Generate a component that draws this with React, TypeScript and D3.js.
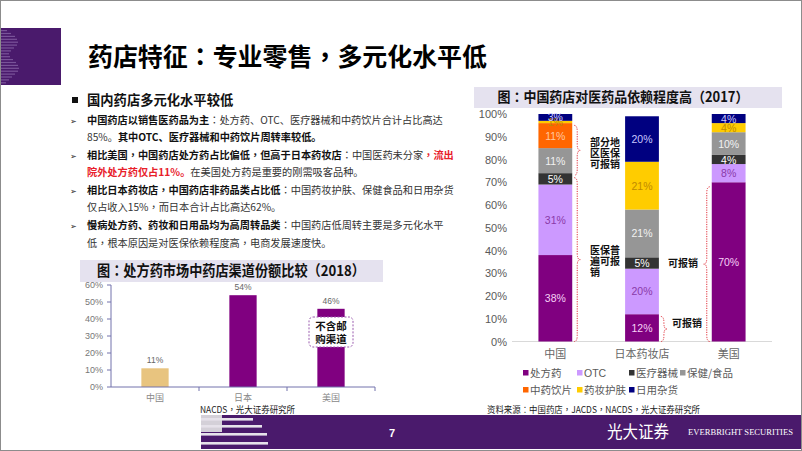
import * as d3 from 'd3';

const W = 802;
const H = 451;
const PURPLE = '#4a1a6c';
const CJK = '"Noto Sans CJK SC", sans-serif';
const CJK_TC = '"Noto Sans CJK TC", sans-serif';
const LATIN = '"Liberation Sans", Arial, sans-serif';

// left chart: pharmacy share of Rx market (2018)
const SHARE_CATS = ['中国', '日本', '美国'];
const SHARE_VALUES = [11, 54, 46];
const SHARE_COLORS = ['#e8c47f', '#800080', '#800080'];
const SHARE_TICKS = [0, 10, 20, 30, 40, 50, 60];

// right chart: revenue mix (2017)
const DEP_CATS = ['中国', '日本药妆店', '美国'];
const DEP_SERIES = ['处方药', 'OTC', '医疗器械', '保健/食品', '中药饮片', '药妆护肤', '日用杂货'];
const DEP_CHINA = [38, 31, 5, 11, 11, 1, 3];
const DEP_JAPAN = [12, 20, 5, 21, 0, 21, 20];
const DEP_US = [70, 8, 4, 10, 0, 4, 4];
const DEP_COLORS = ['#800080', '#cc99ff', '#333333', '#969696', '#ff6600', '#ffcc00', '#000080'];
const DEP_LABEL_COLORS = ['#f6d0f6', '#8a3aa8', '#ffffff', '#f2f2f2', '#ffc8a0', '#c08a00', '#c8c8ff'];
const DEP_TICKS = [0, 10, 20, 30, 40, 50, 60, 70, 80, 90, 100];

// dotted braces on the right chart (value ranges)
const BRACES = [
  { cat: '中国', from: 73, to: 95, dir: 1, side: 'right' },
  { cat: '中国', from: 0, to: 72, dir: 1, side: 'right' },
  { cat: '日本药妆店', from: 0, to: 11, dir: 1, side: 'right' },
  { cat: '美国', from: 0, to: 68, dir: -1, side: 'left' },
];
const NOTES = [
  { x: 590, y: 142, lines: ['部分地', '区医保', '可报销'] },
  { x: 590, y: 250, lines: ['医保普', '遍可报', '销'] },
  { x: 668, y: 263, lines: ['可报销'] },
  { x: 672, y: 323, lines: ['可报销'] },
];

type Seg = { t: string; b?: boolean; r?: boolean };
const BODY: Seg[][] = [
  [{ t: '中国药店以销售医药品为主', b: true }, { t: '：处方药、OTC、医疗器械和中药饮片合计占比高达' }],
  [{ t: '85%。' }, { t: '其中OTC、医疗器械和中药饮片周转率较低。', b: true }],
  [{ t: '相比美国，中国药店处方药占比偏低，但高于日本药妆店', b: true }, { t: '：中国医药未分家' }, { t: '，流出', b: true, r: true }],
  [{ t: '院外处方药仅占11%。', b: true, r: true }, { t: '在美国处方药是重要的刚需吸客品种。' }],
  [{ t: '相比日本药妆店，中国药店非药品类占比低', b: true }, { t: '：中国药妆护肤、保健食品和日用杂货' }],
  [{ t: '仅占收入15%，而日本合计占比高达62%。' }],
  [{ t: '慢病处方药、药妆和日用品均为高周转品类', b: true }, { t: '：中国药店低周转主要是多元化水平' }],
  [{ t: '低，根本原因是对医保依赖程度高，电商发展速度快。' }],
];
const BODY_Y = [120, 137, 155, 172, 190, 207, 225, 243];
const ARROW_ROWS = [0, 2, 4, 6];

// full-width colon / comma centred in their cell, as in the slide font
function P({ s }: { s: string }) {
  return (
    <>
      {s.split(/([：，])/).filter(p => p !== '').map((p, i) =>
        p === '：' || p === '，'
          ? <tspan key={i} fontFamily={CJK_TC}>{p}</tspan>
          : <tspan key={i}>{p}</tspan>
      )}
    </>
  );
}

function bracePath(x: number, y1: number, y2: number, w: number, dir: number) {
  const ym = (y1 + y2) / 2;
  const r = Math.min(6, (y2 - y1) / 4);
  const xm = x + dir * w;
  return `M${x},${y1} Q${xm},${y1} ${xm},${y1 + r} L${xm},${ym - r} Q${xm},${ym} ${x + dir * 2 * w},${ym} Q${xm},${ym} ${xm},${ym + r} L${xm},${y2 - r} Q${xm},${y2} ${x},${y2}`;
}

function ShareChart() {
  const x = d3.scaleBand<string>().domain(SHARE_CATS).range([111, 375]);
  const y = d3.scaleLinear().domain([0, 60]).range([387, 285]);
  const bw = x.bandwidth() * 0.31;
  const axisColor = '#7272ac';
  return (
    <g>
      <rect x={80} y={260} width={303} height={22} fill="#e5e2ef" />
      <text x={231} y={276} textAnchor="middle" fontFamily={CJK} fontWeight={700} fontSize={14.5}
        textLength={268} lengthAdjust="spacingAndGlyphs" fill="#111"><P s="图：处方药市场中药店渠道份额比较（2018）" /></text>
      {SHARE_TICKS.map(t => (
        <g key={t}>
          <line x1={107} x2={111} y1={y(t)} y2={y(t)} stroke={axisColor} />
          <text x={103} y={y(t) + 3} textAnchor="end" fontFamily={LATIN} fontSize={9} fill="#777">{t}%</text>
        </g>
      ))}
      {SHARE_CATS.map((c, i) => {
        const cx = x(c)! + x.bandwidth() / 2;
        return (
          <g key={c}>
            <rect x={cx - bw / 2} y={y(SHARE_VALUES[i])} width={bw} height={y(0) - y(SHARE_VALUES[i])} fill={SHARE_COLORS[i]} />
            <text x={cx} y={y(SHARE_VALUES[i]) - 5} textAnchor="middle" fontFamily={LATIN} fontSize={8.5} fill="#666">{SHARE_VALUES[i]}%</text>
            <text x={cx} y={401} textAnchor="middle" fontFamily={CJK} fontSize={9} fill="#888">{c}</text>
            <line x1={x(c)! + x.bandwidth()} x2={x(c)! + x.bandwidth()} y1={387} y2={391} stroke={axisColor} />
          </g>
        );
      })}
      <line x1={111} x2={111} y1={285} y2={387} stroke={axisColor} />
      <line x1={111} x2={375} y1={387} y2={387} stroke={axisColor} />
      <rect x={309} y={317} width={44} height={30} rx={4} fill="#fff" stroke="#9a5aae" strokeDasharray="2,1.5" />
      <text x={331} y={330} textAnchor="middle" fontFamily={CJK} fontWeight={700} fontSize={10.5} fill="#111">不含邮</text>
      <text x={331} y={343} textAnchor="middle" fontFamily={CJK} fontWeight={700} fontSize={10.5} fill="#111">购渠道</text>
      <text x={200} y={413} fontFamily={CJK} fontSize={9} textLength={95} lengthAdjust="spacingAndGlyphs" fill="#222"><P s="NACDS，光大证券研究所" /></text>
    </g>
  );
}

function DependChart() {
  const rows = DEP_CATS.map((c, i) => {
    const vals = [DEP_CHINA, DEP_JAPAN, DEP_US][i];
    const row: Record<string, any> = { cat: c };
    DEP_SERIES.forEach((s, j) => { row[s] = vals[j]; });
    return row;
  });
  const stack = d3.stack<Record<string, any>>().keys(DEP_SERIES)(rows);
  const x = d3.scaleBand<string>().domain(DEP_CATS).range([512, 772]);
  const y = d3.scaleLinear().domain([0, 100]).range([341.5, 114]);
  const bw = x.bandwidth() * 0.39;
  const cxOf = (c: string) => x(c)! + x.bandwidth() / 2;
  return (
    <g>
      <rect x={474} y={87} width={308} height={21} fill="#e5e2ef" />
      <text x={623} y={102} textAnchor="middle" fontFamily={CJK} fontWeight={700} fontSize={14}
        textLength={251} lengthAdjust="spacingAndGlyphs" fill="#111"><P s="图：中国药店对医药品依赖程度高（2017）" /></text>
      {DEP_TICKS.map(t => (
        <text key={t} x={507} y={y(t) + 4} textAnchor="end" fontFamily={LATIN} fontSize={11} fill="#595959">{t}%</text>
      ))}
      <line x1={512} x2={772} y1={y(0)} y2={y(0)} stroke="#d9d9d9" />
      {stack.map((layer, si) => (
        <g key={layer.key}>
          {layer.map((d, ci) => {
            const v = d[1] - d[0];
            if (v <= 0) return null;
            const cx = cxOf(DEP_CATS[ci]);
            return (
              <rect key={ci} x={cx - bw / 2} y={y(d[1])} width={bw} height={y(d[0]) - y(d[1])} fill={DEP_COLORS[si]} />
            );
          })}
        </g>
      ))}
      {stack.map((layer, si) => (
        <g key={'l' + layer.key}>
          {layer.map((d, ci) => {
            const v = d[1] - d[0];
            if (v <= 0) return null;
            return (
              <text key={ci} x={cxOf(DEP_CATS[ci])} y={y((d[0] + d[1]) / 2) + 4} textAnchor="middle"
                fontFamily={LATIN} fontSize={10.5} fill={DEP_LABEL_COLORS[si]}>{v}%</text>
            );
          })}
        </g>
      ))}
      {DEP_CATS.map(c => (
        <text key={c} x={cxOf(c)} y={358} textAnchor="middle" fontFamily={CJK} fontSize={11} fill="#666">{c}</text>
      ))}
      {BRACES.map((b, i) => {
        const cx = cxOf(b.cat);
        const bx = b.side === 'right' ? cx + bw / 2 + 2 : cx - bw / 2 - 2;
        return (
          <path key={i} d={bracePath(bx, y(b.to), y(b.from), 3, b.dir)} fill="none"
            stroke="#e0303a" strokeWidth={1} strokeDasharray="1.2,1.2" />
        );
      })}
      {NOTES.map((n, i) => (
        <g key={i}>
          {n.lines.map((l, j) => (
            <text key={j} x={n.x} y={n.y + 4 + j * 11} fontFamily={CJK} fontWeight={700} fontSize={10} fill="#111">{l}</text>
          ))}
        </g>
      ))}
      {DEP_SERIES.map((s, i) => {
        const col = i % 4;
        const row = Math.floor(i / 4);
        const lx = [523, 577, 629, 680][col];
        const ly = 373 + row * 17;
        return (
          <g key={s}>
            <rect x={lx} y={ly - 3} width={5.5} height={5.5} fill={DEP_COLORS[i]} />
            <text x={lx + 7} y={ly + 4} fontFamily={s === 'OTC' ? LATIN : CJK} fontSize={10.5} fill="#595959">{s}</text>
          </g>
        );
      })}
      <text x={487} y={413} fontFamily={CJK} fontSize={9} textLength={213} lengthAdjust="spacingAndGlyphs" fill="#222"><P s="资料来源：中国药店，JACDS，NACDS，光大证券研究所" /></text>
    </g>
  );
}

function Decorations() {
  const stripeLens = [6, 10, 14, 16, 17, 16, 13, 10, 8, 9, 12, 15, 17, 18, 17, 14, 11, 8, 5];
  const footStripes = [
    { y: 418, w: 52 }, { y: 425, w: 61 }, { y: 433, w: 66 }, { y: 442, w: 67 },
  ];
  return (
    <g>
      <rect x={0} y={28} width={61} height={57} fill={PURPLE} />
      {stripeLens.map((l, i) => (
        <rect key={i} x={1} y={30 + i * 2.9} width={l} height={1.2} fill="#9a7ab8" opacity={0.6} />
      ))}
      <rect x={201} y={415} width={600} height={34} fill={PURPLE} />
      <rect x={201} y={415} width={21} height={17} fill="#d4d0d8" />
      {footStripes.map((s, i) => (
        <rect key={i} x={201} y={s.y} width={s.w} height={2.6} fill="#e6e2ea" />
      ))}
      <text x={392} y={437} textAnchor="middle" fontFamily={LATIN} fontWeight={700} fontSize={11} fill="#fff">7</text>
      <text x={607} y={438} fontFamily={CJK} fontWeight={400} fontSize={17} textLength={62} lengthAdjust="spacingAndGlyphs" fill="#fff">光大证券</text>
      <text x={688} y={435} fontFamily='"Liberation Serif", serif' fontSize={8} textLength={105} lengthAdjust="spacingAndGlyphs" fill="#fff">EVERBRIGHT SECURITIES</text>
    </g>
  );
}

function TextBlock() {
  return (
    <g fontFamily={CJK}>
      <text x={88} y={66} fontSize={25} fontWeight={700} fill="#000" textLength={399} lengthAdjust="spacingAndGlyphs"><P s="药店特征：专业零售，多元化水平低" /></text>
      <rect x={72} y={97} width={6} height={6} fill="#111" />
      <text x={87} y={105} fontSize={13.3} fontWeight={700} fill="#111">国内药店多元化水平较低</text>
      {ARROW_ROWS.map(r => (
        <text key={r} x={70} y={BODY_Y[r] + 3.5} fontFamily='"DejaVu Sans", sans-serif' fontSize={8} fill="#222">➢</text>
      ))}
      {BODY.map((segs, i) => (
        <text key={i} x={87} y={BODY_Y[i] + 3.7} fontSize={10.2} fill="#222">
          {segs.map((s, j) => (
            <tspan key={j} fontWeight={s.b ? 700 : 400} fill={s.r ? '#e8202a' : s.b ? '#111' : '#333'}><P s={s.t} /></tspan>
          ))}
        </text>
      ))}
    </g>
  );
}

export default function App() {
  return (
    <svg width={W} height={H} style={{ position: 'absolute', left: 0, top: 0, background: '#fff' }}>
      <rect x={0} y={0} width={W} height={H} fill="#fff" />
      <Decorations />
      <TextBlock />
      <ShareChart />
      <DependChart />
      <rect x={0.5} y={0.5} width={W - 1} height={H - 1} fill="none" stroke="#8c8c8c" />
    </svg>
  );
}
